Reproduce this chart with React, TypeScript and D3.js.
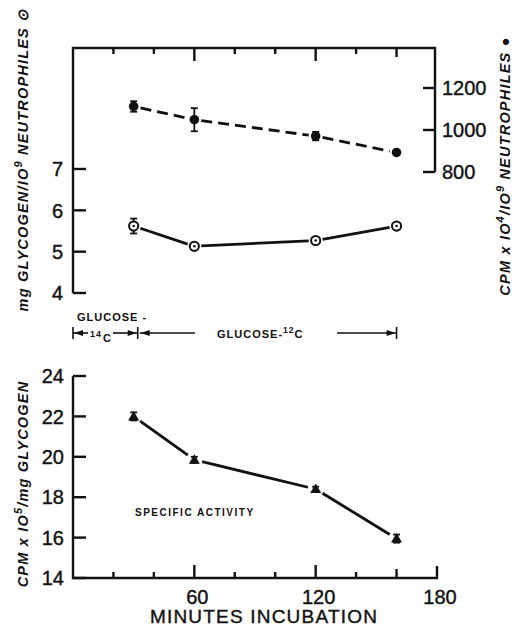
import React from "react";
import * as d3 from "d3";

const minutes = [30, 60, 120, 160];
const glycogen = [5.62, 5.13, 5.27, 5.62];
const glycogenErr = [0.18, 0.05, 0.07, 0.05];
const cpmNeut = [1112, 1049, 971, 893];
const cpmNeutErr = [25, 55, 20, 10];
const specAct = [22.0, 19.85, 18.4, 15.95];
const specErr = [0.2, 0.15, 0.12, 0.2];

const leftTopTicks = [4, 5, 6, 7];
const rightTopTicks = [800, 1000, 1200];
const bottomTicks = [14, 16, 18, 20, 22, 24];
const xMinorTicks = [20, 40, 60, 80, 100, 120, 140, 160];
const xLabels = [60, 120, 180];

const FONT = "'Liberation Sans', Arial, sans-serif";

function gapSegments(pts: [number, number][], gap: number) {
  const segs: string[] = [];
  for (let i = 0; i < pts.length - 1; i++) {
    const [x1, y1] = pts[i];
    const [x2, y2] = pts[i + 1];
    const dx = x2 - x1, dy = y2 - y1;
    const L = Math.hypot(dx, dy);
    const ux = dx / L, uy = dy / L;
    segs.push(`M${x1 + ux * gap},${y1 + uy * gap}L${x2 - ux * gap},${y2 - uy * gap}`);
  }
  return segs;
}

export default function App() {
  const x = d3.scaleLinear().domain([0, 180]).range([73, 437]);
  const yL = d3.scaleLinear().domain([4, 7]).range([293, 169]);
  const yR = d3.scaleLinear().domain([800, 1200]).range([172, 88]);
  const yB = d3.scaleLinear().domain([14, 24]).range([578, 376]);

  const topY = 48;
  const botY = 578;
  const x0 = x(0);
  const xEndTop = x(180) - 2;

  const dashPts = minutes.map((m, i) => [x(m), yR(cpmNeut[i])] as [number, number]);
  const solidPts = minutes.map((m, i) => [x(m), yL(glycogen[i])] as [number, number]);
  const triPts = minutes.map((m, i) => [x(m), yB(specAct[i])] as [number, number]);

  const tickLen = (m: number) => (m === 60 || m === 120 ? 13 : m === 160 ? 9 : 6);

  const arrowY = 333;
  const head = (xTip: number, dir: number) =>
    `M${xTip},${arrowY}L${xTip - dir * 9},${arrowY - 3}L${xTip - dir * 9},${arrowY + 3}Z`;

  const labelStyle = { fontFamily: FONT, fontStyle: "italic", fontWeight: 700, fontSize: 14.5, letterSpacing: 1.2 } as const;

  return (
    <svg width={517} height={627} style={{ position: "absolute", left: 0, top: 0, background: "#fff" }}>
      <g stroke="#111" fill="none" strokeWidth={2.4}>
        <path d={`M${x0},${yL(4)}L${x0},${topY}L${xEndTop},${topY}L${xEndTop},${yR(800)}`} />
        {leftTopTicks.map((t) => (
          <line key={"lt" + t} x1={x0} x2={x0 + 13} y1={yL(t)} y2={yL(t)} />
        ))}
        {rightTopTicks.map((t) => (
          <line key={"rt" + t} x1={xEndTop} x2={xEndTop - 12} y1={yR(t)} y2={yR(t)} />
        ))}
        {xMinorTicks.map((m) => (
          <line key={"tt" + m} x1={x(m)} x2={x(m)} y1={topY} y2={topY + tickLen(m)} />
        ))}

        <path d={`M${x0},${yB(24)}L${x0},${botY}L${x(180)},${botY}L${x(180)},${botY - 12}`} />
        {bottomTicks.map((t) => (
          <line key={"bt" + t} x1={x0} x2={x0 + 13} y1={yB(t)} y2={yB(t)} />
        ))}
        {xMinorTicks.map((m) => (
          <line key={"bx" + m} x1={x(m)} x2={x(m)} y1={botY} y2={botY - tickLen(m)} />
        ))}
      </g>

      <g stroke="#111" fill="none" strokeWidth={2.8}>
        {gapSegments(dashPts, 7).map((d, i) => (
          <path key={"ds" + i} d={d} strokeDasharray="11 6" />
        ))}
        {gapSegments(solidPts, 7).map((d, i) => (
          <path key={"ss" + i} d={d} />
        ))}
        {gapSegments(triPts, 8).map((d, i) => (
          <path key={"ts" + i} d={d} />
        ))}
      </g>

      <g stroke="#111" strokeWidth={1.8}>
        {minutes.map((m, i) => {
          const cx = x(m);
          const a = yR(cpmNeut[i] + cpmNeutErr[i]);
          const b = yR(cpmNeut[i] - cpmNeutErr[i]);
          return (
            <g key={"ed" + i}>
              <line x1={cx} x2={cx} y1={a} y2={b} />
              <line x1={cx - 3.5} x2={cx + 3.5} y1={a} y2={a} />
              <line x1={cx - 3.5} x2={cx + 3.5} y1={b} y2={b} />
            </g>
          );
        })}
        {minutes.map((m, i) => {
          const cx = x(m);
          const a = yL(glycogen[i] + glycogenErr[i]);
          const b = yL(glycogen[i] - glycogenErr[i]);
          return (
            <g key={"es" + i}>
              <line x1={cx} x2={cx} y1={a} y2={b} />
              <line x1={cx - 3.5} x2={cx + 3.5} y1={a} y2={a} />
              <line x1={cx - 3.5} x2={cx + 3.5} y1={b} y2={b} />
            </g>
          );
        })}
        {minutes.map((m, i) => {
          const cx = x(m);
          const a = yB(specAct[i] + specErr[i]);
          const b = yB(specAct[i] - specErr[i]);
          return (
            <g key={"et" + i}>
              <line x1={cx} x2={cx} y1={a} y2={b} />
              <line x1={cx - 3.5} x2={cx + 3.5} y1={a} y2={a} />
              <line x1={cx - 3.5} x2={cx + 3.5} y1={b} y2={b} />
            </g>
          );
        })}
      </g>

      {dashPts.map(([cx, cy], i) => (
        <circle key={"dm" + i} cx={cx} cy={cy} r={4.8} fill="#111" />
      ))}
      {solidPts.map(([cx, cy], i) => (
        <g key={"sm" + i}>
          <circle cx={cx} cy={cy} r={4.6} fill="#fff" stroke="#111" strokeWidth={2} />
          <circle cx={cx} cy={cy} r={1.3} fill="#111" />
        </g>
      ))}
      {triPts.map(([cx, cy], i) => (
        <path key={"tm" + i} d={`M${cx},${cy - 5.5}L${cx + 5.5},${cy + 4}L${cx - 5.5},${cy + 4}Z`} fill="#111" />
      ))}

      <g fontFamily={FONT} fontSize={20} fill="#111" stroke="#111" strokeWidth={0.4}>
        {leftTopTicks.map((t) => (
          <text key={"ltl" + t} x={63} y={yL(t)} dy="0.36em" textAnchor="end">{t}</text>
        ))}
        {rightTopTicks.map((t) => (
          <text key={"rtl" + t} x={442} y={yR(t)} dy="0.36em" textAnchor="start">{t}</text>
        ))}
        {bottomTicks.map((t) => (
          <text key={"btl" + t} x={64} y={yB(t)} dy="0.36em" textAnchor="end">{t}</text>
        ))}
        {xLabels.map((m) => (
          <text key={"xl" + m} x={x(m) + 3} y={604} textAnchor="middle">{m}</text>
        ))}
        <text x={264} y={623} textAnchor="middle" fontSize={19} letterSpacing={1.2}>MINUTES INCUBATION</text>
      </g>

      <text transform="translate(28,160) rotate(-90)" textAnchor="middle" fill="#111" style={labelStyle}>
        mg GLYCOGEN/IO<tspan dy={-6} fontSize={11}>9</tspan><tspan dy={6}> NEUTROPHILES ⊙</tspan>
      </text>
      <text transform="translate(510,166) rotate(-90)" textAnchor="middle" fill="#111" style={labelStyle}>
        CPM x IO<tspan dy={-6} fontSize={11}>4</tspan><tspan dy={6}>/IO</tspan><tspan dy={-6} fontSize={11}>9</tspan><tspan dy={6}> NEUTROPHILES ●</tspan>
      </text>
      <text transform="translate(28,484) rotate(-90)" textAnchor="middle" fill="#111" style={labelStyle}>
        CPM x IO<tspan dy={-6} fontSize={11}>5</tspan><tspan dy={6}>/mg GLYCOGEN</tspan>
      </text>

      <g fontFamily={FONT} fontSize={11} fill="#111" fontWeight={700} letterSpacing={1}>
        <text x={77} y={321}>GLUCOSE -</text>
        <text x={90} y={337} fontSize={9}>14</text>
        <text x={103} y={342}>C</text>
        <text x={217} y={338}>GLUCOSE-<tspan dy={-5} fontSize={8.5}>12</tspan><tspan dy={5}>C</tspan></text>
        <text x={135} y={516} fontSize={10} letterSpacing={1.5}>SPECIFIC ACTIVITY</text>
      </g>
      <g stroke="#111" strokeWidth={1.6} fill="none">
        <line x1={x0} x2={x0} y1={arrowY - 6} y2={arrowY + 6} />
        <line x1={x0} x2={88} y1={arrowY} y2={arrowY} />
        <line x1={113} x2={x(32)} y1={arrowY} y2={arrowY} />
        <line x1={x(32)} x2={x(32)} y1={arrowY - 6} y2={arrowY + 6} />
        <line x1={x(32) + 2} x2={195} y1={arrowY} y2={arrowY} />
        <line x1={337} x2={x(160)} y1={arrowY} y2={arrowY} />
        <line x1={x(160)} x2={x(160)} y1={arrowY - 6} y2={arrowY + 6} />
      </g>
      <g fill="#111">
        <path d={head(x0 + 1, -1)} />
        <path d={head(x(32) - 1, 1)} />
        <path d={head(x(32) + 3, -1)} />
        <path d={head(x(160) - 1, 1)} />
      </g>
    </svg>
  );
}
